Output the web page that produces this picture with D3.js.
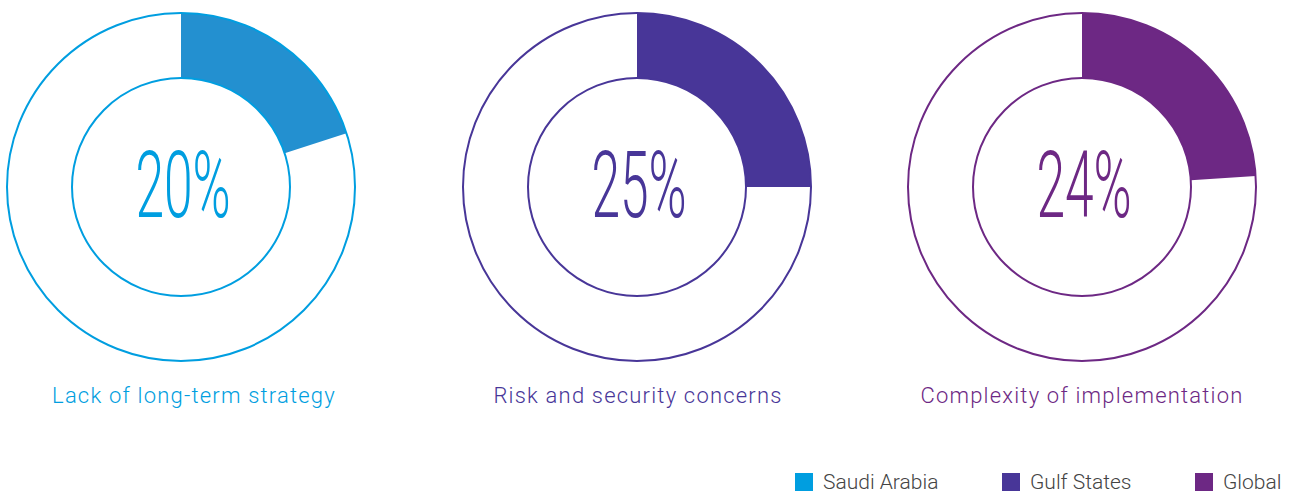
<!DOCTYPE html>
<html>
  <head>
    <meta charset="utf-8">
    <title></title>
    <script src="https://d3js.org/d3.v7.min.js"></script>
    <style type="text/css">
      body {
        margin: 0;
        background: #ffffff;
      }
      .big {
        font-family: 'Roboto';
        font-weight: 300;
      }
      .label {
        font-family: 'Roboto';
        font-weight: 300;
        font-size: 22px;
        letter-spacing: 1.2px;
      }
      .legend text {
        font-family: 'Roboto';
        font-weight: 300;
        font-size: 21px;
        fill: #444444;
      }
    </style>
  </head>
  <body>
    <div class="chart"></div>
    <script type="text/javascript">
      var categories = ['Lack of long-term strategy', 'Risk and security concerns', 'Complexity of implementation'];
      var values = [20, 25, 24];
      var regions = ['Saudi Arabia', 'Gulf States', 'Global'];
      var colors = ['#009ee0', '#483698', '#6d2884'];
      var fills = ['#2390d0', '#483698', '#6d2884'];

      var width = 1295;
      var height = 493;
      var outerR = 174;
      var innerR = 109;

      var svg = d3.select('.chart').append('svg')
        .attr('width', width)
        .attr('height', height);

      var x = d3.scaleOrdinal()
        .domain(categories)
        .range([181, 637, 1082]);

      // labels are not quite centred under the rings
      var labelX = d3.scaleOrdinal()
        .domain(categories)
        .range([194, 638, 1082]);

      var angle = d3.scaleLinear()
        .domain([0, 100])
        .range([0, 2 * Math.PI]);

      var arc = d3.arc()
        .innerRadius(innerR)
        .outerRadius(outerR)
        .startAngle(0)
        .endAngle(function(d){return angle(d)});

      var donut = svg.selectAll('.donut')
        .data(categories)
        .enter()
        .append('g')
          .attr('class', 'donut')
          .attr('transform', function(d){return 'translate(' + x(d) + ',187)'});

      donut.append('path')
        .attr('d', function(d, i){return arc(values[i])})
        .attr('fill', function(d, i){return fills[i]});

      [outerR, innerR].forEach(function(r){
        donut.append('circle')
          .attr('r', r)
          .attr('fill', 'none')
          .attr('stroke', function(d, i){return colors[i]})
          .attr('stroke-width', 2);
      });

      donut.append('text')
        .attr('class', 'big')
        .attr('text-anchor', 'middle')
        .attr('transform', 'translate(2,30) scale(0.56,1)')
        .attr('font-size', 92)
        .attr('fill', function(d, i){return colors[i]})
        .text(function(d, i){return values[i] + '%'});

      svg.selectAll('.label')
        .data(categories)
        .enter()
        .append('text')
          .attr('class', 'label')
          .attr('text-anchor', 'middle')
          .attr('x', function(d){return labelX(d)})
          .attr('y', 403)
          .attr('fill', function(d, i){return colors[i]})
          .text(function(d){return d});

      var legendX = d3.scaleOrdinal()
        .domain(regions)
        .range([795, 1002, 1195]);

      var legend = svg.append('g')
        .attr('class', 'legend')
        .selectAll('g')
        .data(regions)
        .enter()
        .append('g')
          .attr('transform', function(d){return 'translate(' + legendX(d) + ',473)'});

      legend.append('rect')
        .attr('width', 18)
        .attr('height', 18)
        .attr('fill', function(d, i){return colors[i]});

      legend.append('text')
        .attr('x', 28)
        .attr('y', 16)
        .text(function(d){return d});
    </script>
  </body>
</html>
